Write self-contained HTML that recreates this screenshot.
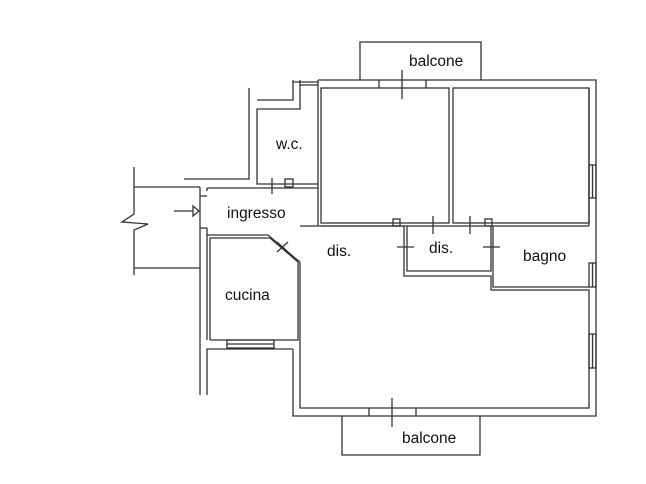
<!DOCTYPE html>
<html><head><style>html,body{margin:0;padding:0;background:#fff}svg{display:block}text{font-family:"Liberation Sans",Arial,sans-serif;font-size:15.5px;fill:#111}</style></head>
<body>
<svg width="646" height="484" viewBox="0 0 646 484" xmlns="http://www.w3.org/2000/svg">
<g fill="none" stroke="#333" stroke-width="1.3">
<polyline points="318,80 596,80 596,416 293,416 293,349"/>
<polyline points="300,262 300,408 589,408 589,290 491,290 491,276 404,276 404,226 300,226"/>
<rect x="321" y="88" width="128" height="135"/>
<rect x="453" y="88" width="136" height="135"/>
<line x1="321" y1="226" x2="589" y2="226"/>
<polyline points="589,226 589,88"/>
<polyline points="407,226 407,271 491,271 491,226"/>
<rect x="393" y="219" width="7" height="7"/>
<rect x="485" y="219" width="7" height="7"/>
<polyline points="493,226 493,287 589,287"/>
<rect x="589" y="165" width="7" height="33"/><line x1="592.5" y1="165" x2="592.5" y2="198"/>
<rect x="589" y="263" width="7" height="24"/><line x1="592.5" y1="263" x2="592.5" y2="287"/>
<rect x="589" y="334" width="7" height="34"/><line x1="592.5" y1="334" x2="592.5" y2="368"/>
<polyline points="360,80 360,42 481,42 481,80"/>
<line x1="379" y1="80" x2="379" y2="88"/><line x1="426" y1="80" x2="426" y2="88"/>
<line x1="402" y1="70" x2="402" y2="99"/>
<polyline points="342,416 342,455 480,455 480,416"/>
<line x1="369" y1="408" x2="369" y2="416"/><line x1="416" y1="408" x2="416" y2="416"/>
<line x1="392" y1="398" x2="392" y2="427"/>
<line x1="433" y1="216" x2="433" y2="234"/><line x1="470" y1="216" x2="470" y2="234"/>
<line x1="397" y1="247" x2="414" y2="247"/><line x1="483" y1="247" x2="500" y2="247"/>
<polyline points="318,80 318,226"/>
<polyline points="293,80 293,100 257,100"/>
<polyline points="300,80 300,109 257,109 257,184 318,184"/>
<line x1="293" y1="82" x2="318" y2="82"/><line x1="300" y1="85" x2="318" y2="85"/>
<polyline points="249,88 249,179 184,179"/>
<line x1="272" y1="178" x2="272" y2="194"/>
<rect x="285" y="179" width="8" height="8"/>
<polyline points="207,188 318,188"/>
<polyline points="200,187 200,395"/>
<polyline points="207,188 207,191"/>
<line x1="200" y1="196" x2="207" y2="196"/><line x1="200" y1="228" x2="207" y2="228"/>
<polyline points="207,228 207,235 268,235 295,258 300,262"/>
<polyline points="210,340 210,238 270,238 298,262 298,340 210,340"/>
<line x1="277" y1="242" x2="288" y2="252"/><line x1="288" y1="242" x2="277" y2="252"/>
<line x1="207" y1="235" x2="207" y2="340"/>
<rect x="227" y="340" width="47" height="8"/><line x1="227" y1="344" x2="274" y2="344"/>
<polyline points="207,395 207,349 293,349"/>
<polyline points="134,167 134,214 122,222 148,224 134,230 134,275"/>
<line x1="134" y1="187" x2="200" y2="187"/>
<line x1="134" y1="268" x2="200" y2="268"/>
<line x1="174" y1="211" x2="193" y2="211"/>
<polygon points="193,206 199,211 193,216"/>
</g>
<text x="409" y="66">balcone</text>
<text x="276" y="149">w.c.</text>
<text x="227" y="218">ingresso</text>
<text x="327" y="256">dis.</text>
<text x="429" y="253">dis.</text>
<text x="523" y="261">bagno</text>
<text x="225" y="300">cucina</text>
<text x="402" y="443">balcone</text>
</svg>
</body></html>
